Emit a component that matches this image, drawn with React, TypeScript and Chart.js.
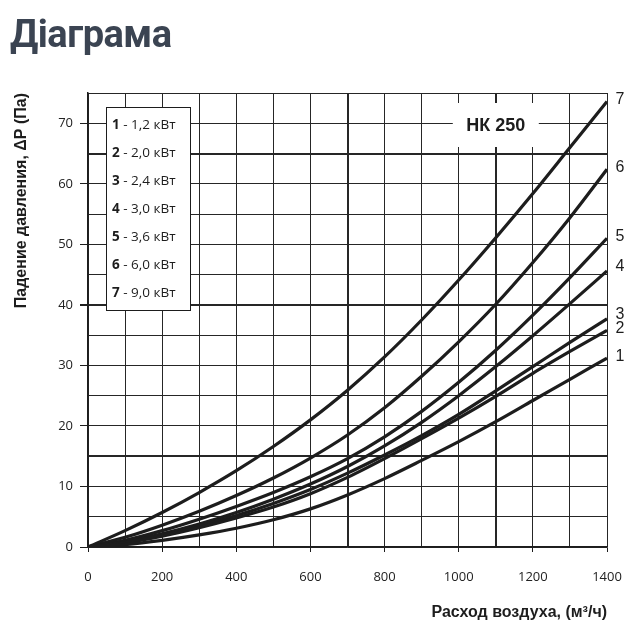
import { useEffect, useRef } from 'react';
import { Chart, registerables } from 'chart.js';
import type { Plugin } from 'chart.js';

Chart.register(...registerables);

// air flow, m³/h
const flow = [0, 100, 200, 300, 400, 500, 600, 700, 800, 900, 1000, 1100, 1200, 1300, 1400];

// pressure drop, Pa, one list per heater
const dp1 = [0, 0.4, 1.1, 2.0, 3.1, 4.5, 6.3, 8.6, 11.3, 14.3, 17.4, 20.7, 24.2, 27.7, 31.2];
const dp2 = [0, 0.7, 1.8, 3.2, 4.8, 6.6, 8.8, 11.5, 14.6, 17.9, 21.3, 24.9, 28.7, 32.3, 35.8];
const dp3 = [0, 0.8, 2.0, 3.5, 5.2, 7.2, 9.5, 12.2, 15.2, 18.4, 21.9, 25.8, 29.8, 33.8, 37.7];
const dp4 = [0, 0.9, 2.2, 3.8, 5.7, 7.9, 10.4, 13.3, 16.7, 20.6, 25.0, 29.8, 34.9, 40.2, 45.6];
const dp5 = [0, 1.1, 2.7, 4.6, 6.7, 9.0, 11.6, 14.6, 18.2, 22.4, 27.2, 32.5, 38.3, 44.5, 51.0];
const dp6 = [0, 1.6, 3.6, 5.9, 8.5, 11.4, 14.7, 18.5, 23.0, 28.2, 33.9, 40.1, 47.0, 54.4, 62.4];
const dp7 = [0, 2.7, 5.7, 9.0, 12.6, 16.6, 21.0, 25.9, 31.4, 37.5, 44.1, 51.1, 58.4, 66.0, 73.6];

const curves = [dp1, dp2, dp3, dp4, dp5, dp6, dp7];
const curveNumbers = ['1', '2', '3', '4', '5', '6', '7'];
const heaterPower = ['1,2 кВт', '2,0 кВт', '2,4 кВт', '3,0 кВт', '3,6 кВт', '6,0 кВт', '9,0 кВт'];

const modelName = 'НК 250';
const pageTitle = 'Діаграма';
const xTitle = 'Расход воздуха, (м³/ч)';
const yTitle = 'Падение давления, ΔP (Па)';

const thickX = [700, 1100];
const thickY = [15, 40, 65];

const INK = '#1d1d1d';
const GRID = '#262626';

const overlay: Plugin<'line'> = {
  id: 'overlay',
  afterDatasetsDraw(chart) {
    const { ctx, chartArea, scales } = chart;
    const xs = scales.x;
    const ys = scales.y;
    ctx.save();

    // model name on a white patch
    const mx = xs.getPixelForValue(1100);
    const my = chartArea.top + 32;
    ctx.fillStyle = '#fff';
    ctx.fillRect(mx - 43, my - 22, 86, 44);
    ctx.fillStyle = INK;
    ctx.font = 'bold 18px "Liberation Sans", Arial, sans-serif';
    ctx.textAlign = 'center';
    ctx.textBaseline = 'middle';
    ctx.fillText(modelName, mx, my + 1);

    // legend box
    const bx = chartArea.left + 18;
    const by = chartArea.top + 14;
    ctx.fillStyle = '#fff';
    ctx.fillRect(bx, by, 84, 203);
    ctx.strokeStyle = INK;
    ctx.lineWidth = 1;
    ctx.strokeRect(bx + 0.5, by + 0.5, 84, 203);
    ctx.textAlign = 'left';
    curveNumbers.forEach((n, i) => {
      const ty = by + 18 + i * 28;
      ctx.fillStyle = INK;
      ctx.font = 'bold 13.5px "Open Sans", sans-serif';
      ctx.fillText(n, bx + 6, ty);
      const w = ctx.measureText(n).width;
      ctx.font = '13.5px "Open Sans", sans-serif';
      ctx.fillText(' - ' + heaterPower[i], bx + 6 + w, ty);
    });

    // curve numbers at the right end
    ctx.font = '16px "Liberation Sans", Arial, sans-serif';
    ctx.textAlign = 'center';
    ctx.fillStyle = INK;
    curves.forEach((c, i) => {
      const last = c[c.length - 1];
      const nudge = i === 2 || i === 3 ? -4 : -2;
      ctx.fillText(curveNumbers[i], chartArea.right + 13, ys.getPixelForValue(last) + nudge);
    });
    ctx.restore();
  },
};

export default function App() {
  const chartRef = useRef<HTMLCanvasElement>(null);
  const chartInstance = useRef<Chart | null>(null);

  useEffect(() => {
    if (!chartRef.current) return;
    if (chartInstance.current) chartInstance.current.destroy();
    const ctx = chartRef.current.getContext('2d');
    if (!ctx) return;

    chartInstance.current = new Chart(ctx, {
      type: 'line',
      data: {
        datasets: curves.map((c, i) => ({
          label: curveNumbers[i],
          data: flow.map((q, k) => ({ x: q, y: c[k] })),
          borderColor: INK,
          borderWidth: 3.2,
          pointRadius: 0,
          cubicInterpolationMode: 'monotone' as const,
          fill: false,
        })),
      },
      options: {
        responsive: true,
        maintainAspectRatio: false,
        animation: false,
        layout: { padding: { top: 93, right: 33, left: 0, bottom: 0 } },
        plugins: {
          legend: { display: false },
          tooltip: { enabled: false },
        },
        scales: {
          x: {
            type: 'linear',
            min: 0,
            max: 1400,
            afterFit: (s) => { s.height = 93; },
            border: { color: INK, width: 1.5 },
            grid: {
              color: GRID,
              lineWidth: (c) => (c.tick && thickX.includes(c.tick.value) ? 2 : 1),
              tickLength: 5,
              tickColor: (c) => (c.tick && c.tick.value % 200 === 0 ? INK : 'rgba(0,0,0,0)'),
            },
            ticks: {
              stepSize: 100,
              autoSkip: false,
              maxRotation: 0,
              padding: 17,
              color: '#222',
              font: { family: '"Open Sans", sans-serif', size: 13 },
              callback: (v) => (Number(v) % 200 === 0 ? String(v) : ''),
            },
            title: {
              display: true,
              text: xTitle,
              align: 'end',
              color: INK,
              padding: { top: 0, bottom: 18 },
              font: { family: '"Liberation Sans", Arial, sans-serif', size: 16, weight: 'bold' },
            },
          },
          y: {
            min: 0,
            max: 75,
            afterFit: (s) => { s.width = 88; },
            border: { color: INK, width: 1.5 },
            grid: {
              color: GRID,
              lineWidth: (c) => (c.tick && thickY.includes(c.tick.value) ? 2 : 1),
              tickLength: 8,
              tickColor: (c) => (c.tick && c.tick.value % 10 === 0 ? INK : 'rgba(0,0,0,0)'),
            },
            ticks: {
              stepSize: 5,
              autoSkip: false,
              padding: 7,
              color: '#222',
              font: { family: '"Open Sans", sans-serif', size: 13 },
              callback: (v) => (Number(v) % 10 === 0 && Number(v) <= 70 ? String(v) : ''),
            },
            title: {
              display: true,
              text: yTitle,
              align: 'end',
              color: INK,
              padding: { top: 12, bottom: 0 },
              font: { family: '"Liberation Sans", Arial, sans-serif', size: 16, weight: 'bold' },
            },
          },
        },
      },
      plugins: [overlay],
    });

    return () => {
      if (chartInstance.current) {
        chartInstance.current.destroy();
        chartInstance.current = null;
      }
    };
  }, []);

  return (
    <div style={{ position: 'absolute', left: 0, top: 0, width: 640, height: 640, background: '#fff' }}>
      <canvas ref={chartRef} />
      <div
        style={{
          position: 'absolute',
          left: 10,
          top: 15,
          font: 'bold 38px Roboto, sans-serif',
          lineHeight: '38px',
          color: '#3b4452',
          letterSpacing: '-0.5px',
        }}
      >
        {pageTitle}
      </div>
    </div>
  );
}
